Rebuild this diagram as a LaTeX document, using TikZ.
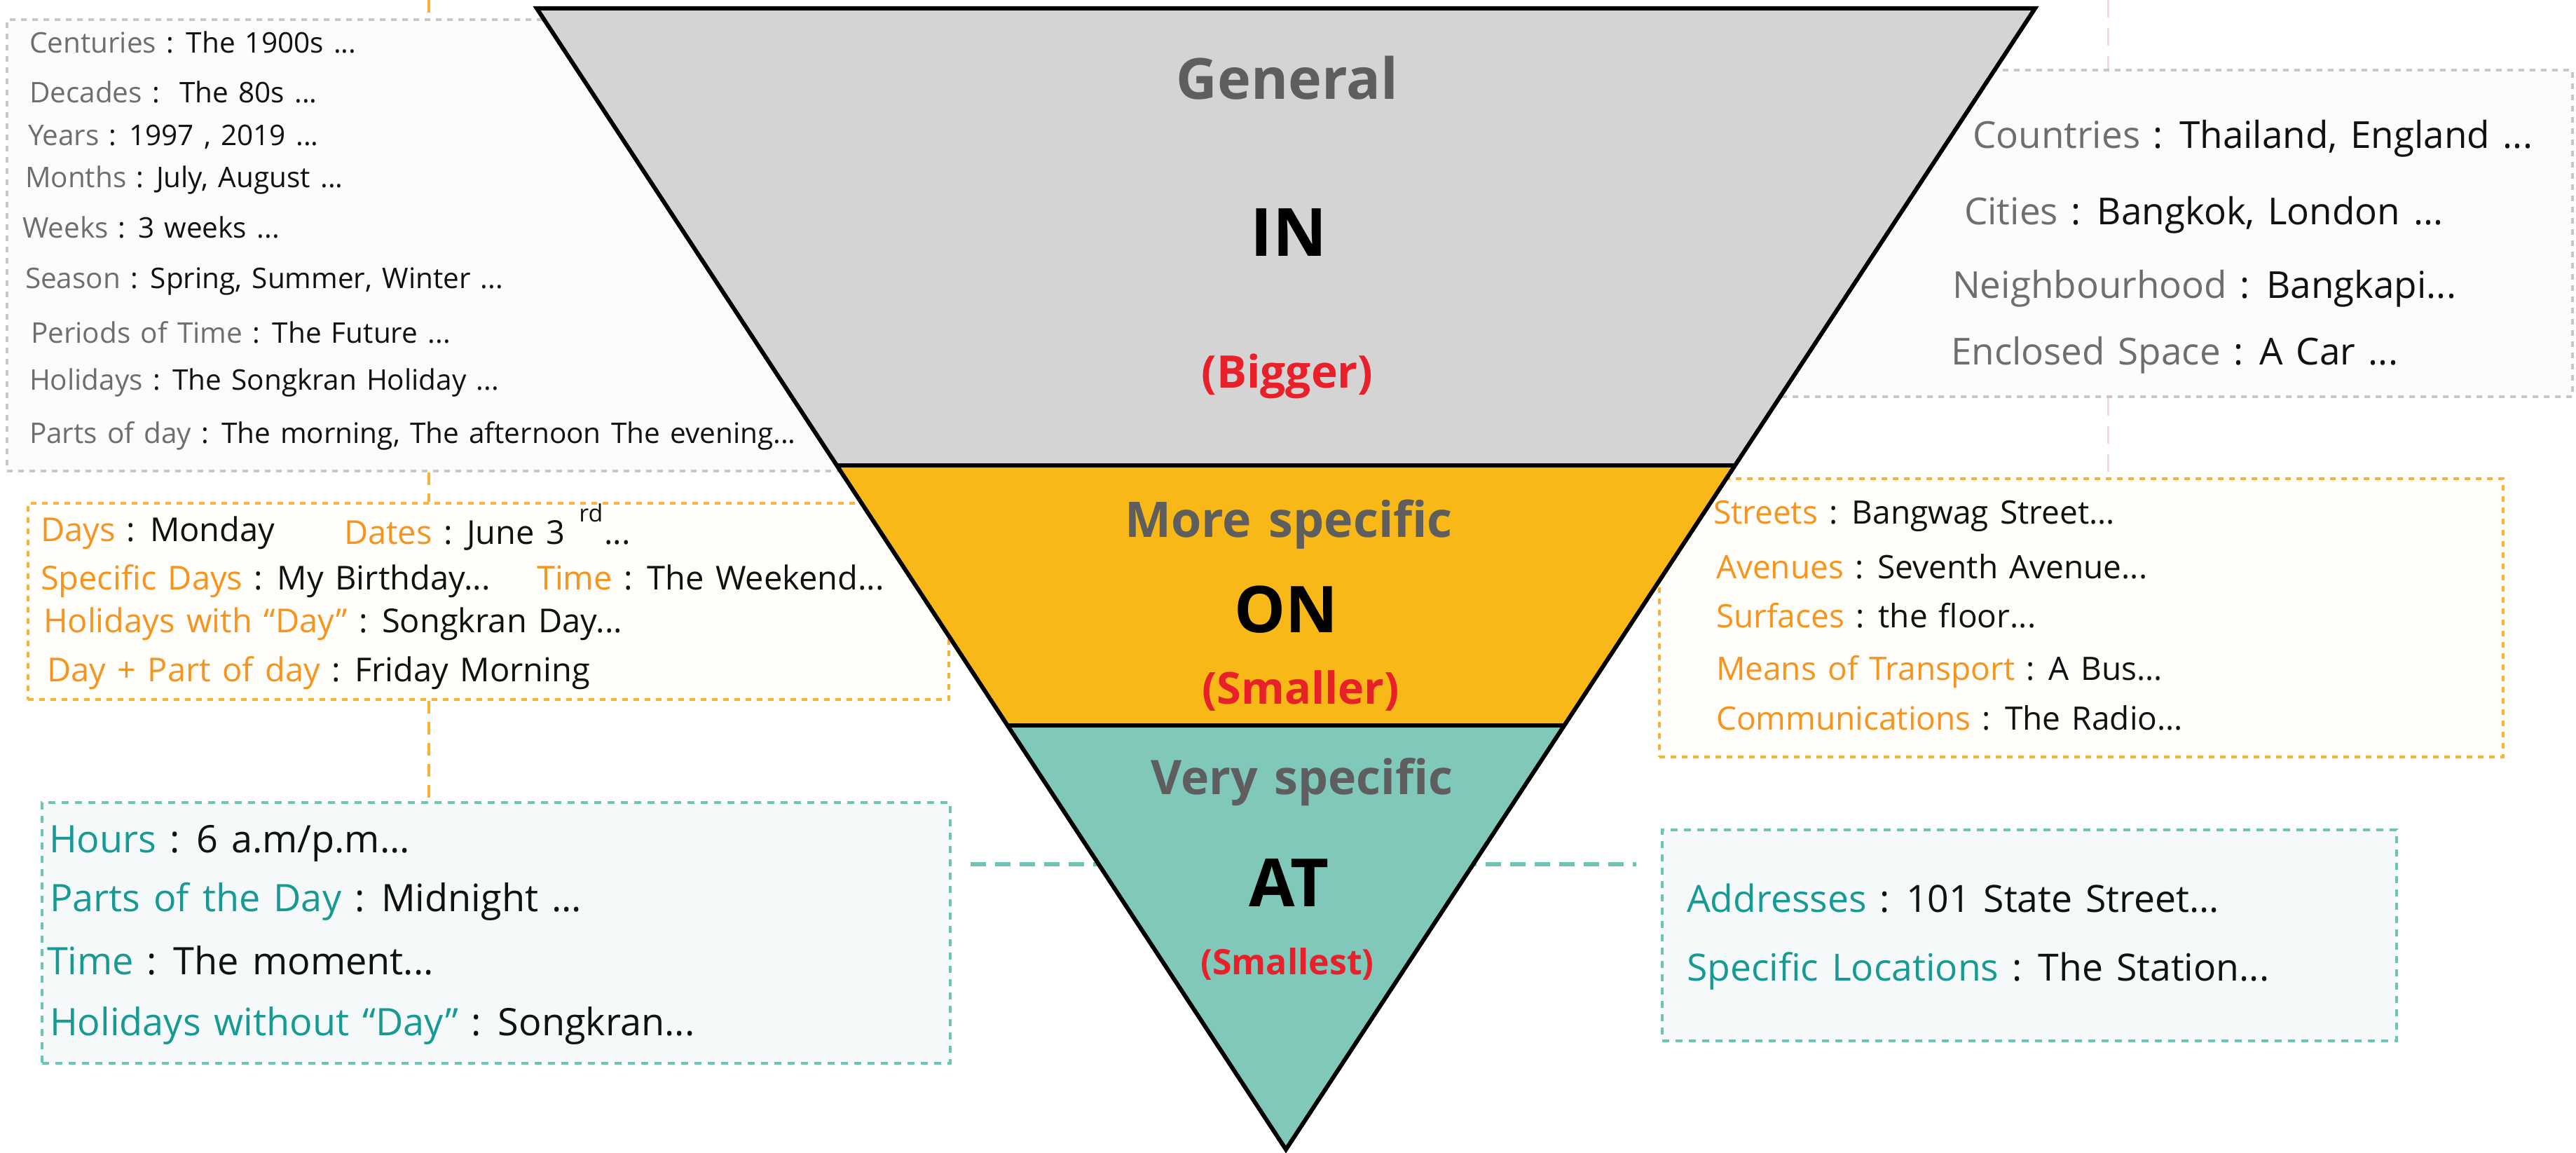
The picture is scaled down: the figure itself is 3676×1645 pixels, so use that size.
\documentclass[tikz,border=0pt]{standalone}
\usepackage{fontspec}
\setmainfont[WordSpace=1.35]{Open Sans}
\usetikzlibrary{calc}
\definecolor{tgray}{HTML}{D4D4D4}
\definecolor{torange}{HTML}{F8B817}
\definecolor{tteal}{HTML}{80C8BA}
\definecolor{titlegray}{HTML}{5E5E5E}
\definecolor{titlered}{HTML}{E8202A}
\definecolor{lblgray}{HTML}{6E6E6E}
\definecolor{lblorange}{HTML}{F7941D}
\definecolor{lblteal}{HTML}{189A94}
\definecolor{bdgray}{HTML}{C8C8C8}
\definecolor{bdorange}{HTML}{F9B233}
\definecolor{bdteal}{HTML}{6CC5B5}
\definecolor{fillgray}{HTML}{FCFCFC}
\definecolor{fillorange}{HTML}{FFFEFA}
\definecolor{fillteal}{HTML}{F6F9F9}
\definecolor{conpink}{HTML}{F6D6D6}
\definecolor{valtext}{HTML}{111111}
\newcommand\myfs[1]{\fontsize{#1}{#1}\selectfont}
\newcommand\labG[1]{\textcolor{lblgray}{#1}}
\newcommand\labO[1]{\textcolor{lblorange}{#1}}
\newcommand\labT[1]{\textcolor{lblteal}{#1}}
\tikzset{
  boxbase/.style={draw, rectangle, anchor=north west, inner sep=0pt, line width=4pt, dash pattern=on 8pt off 8pt},
  graybox/.style={boxbase, draw=bdgray, fill=fillgray},
  orangebox/.style={boxbase, draw=bdorange, fill=fillorange},
  tealbox/.style={boxbase, draw=bdteal, fill=fillteal, dash pattern=on 10pt off 9pt},
  txt/.style={anchor=base west, inner sep=0pt, outer sep=0pt, text=valtext},
  ttl/.style={anchor=base, inner sep=0pt, outer sep=0pt, font=\bfseries},
  band/.style={draw=black, line width=6pt, line join=miter},
  orangeconn/.style={draw=bdorange, line width=4pt, dash pattern=on 18pt off 12pt},
  pinkconn/.style={draw=conpink, line width=3pt, dash pattern=on 25pt off 15pt},
  tealconn/.style={draw=bdteal, line width=6pt, dash pattern=on 22pt off 13pt},
}
\begin{document}
\begin{tikzpicture}[x=1pt, y=-1pt]
\useasboundingbox (0,0) rectangle (3676,1645);
% connector anchors
\coordinate (otop) at (612,0);
\coordinate (ptop) at (3008,0);
% boxes (nodes)
\node[graybox, minimum width=1292pt, minimum height=644pt] (lin) at (8,26) {};
\node[orangebox, minimum width=1314pt, minimum height=280pt] (lon) at (38,716) {};
\node[tealbox, minimum width=1296pt, minimum height=372pt] (lat) at (58,1143) {};
\node[graybox, minimum width=1369pt, minimum height=466pt] (rin) at (2300,98) {};
\node[orangebox, minimum width=1204pt, minimum height=397pt] (ron) at (2366,681) {};
\node[tealbox, minimum width=1048pt, minimum height=301pt] (rat) at (2370,1182) {};
% connectors
\path[orangeconn] (otop) -- (otop |- lin.north);
\path[orangeconn] (lin.south -| otop) -- (lon.north -| otop);
\path[orangeconn] (lon.south -| otop) -- (lat.north -| otop);
\path[pinkconn] (ptop) -- (ptop |- rin.north);
\path[pinkconn] (rin.south -| ptop) -- (ron.north -| ptop);
\coordinate (tl) at ($(lat.north east)+(27,90)$);
\coordinate (tr) at ($(rat.north west)+(-35,51)$);
\path[tealconn] (tl) -- (tr);
% triangle
\coordinate (A) at (766,12);
\coordinate (B) at (2904,12);
\coordinate (C) at (1835,1640);
\coordinate (L1) at ($(A)!0.4005!(C)$);
\coordinate (R1) at ($(B)!0.4005!(C)$);
\coordinate (L2) at ($(A)!0.6284!(C)$);
\coordinate (R2) at ($(B)!0.6284!(C)$);
\fill[tgray] (A) -- (B) -- (R1) -- (L1) -- cycle;
\fill[torange] (L1) -- (R1) -- (R2) -- (L2) -- cycle;
\fill[tteal] (L2) -- (R2) -- (C) -- cycle;
\draw[band] (L1) -- (R1);
\draw[band] (L2) -- (R2);
\draw[band] (A) -- (B) -- (C) -- cycle;
% triangle titles
\node[ttl, text=titlegray, font=\bfseries\myfs{81}] (tgen) at (1837,142) {General};
\node[ttl, text=black, font=\bfseries\myfs{95}] (tin) at (1839,365) {IN};
\node[ttl, text=titlered, font=\bfseries\myfs{64}] (tbig) at (1837,553) {(Bigger)};
\node[ttl, text=titlegray, font=\bfseries\myfs{70}] (tmore) at (1839,766) {More specific};
\node[ttl, text=black, font=\bfseries\myfs{92}] (ton) at (1835,902) {ON};
\node[ttl, text=titlered, font=\bfseries\myfs{63}] (tsmaller) at (1856,1004) {(Smaller)};
\node[ttl, text=titlegray, font=\bfseries\myfs{68}] (tvery) at (1858,1133) {Very specific};
\node[ttl, text=black, font=\bfseries\myfs{95}] (tat) at (1839,1293) {AT};
\node[ttl, text=titlered, font=\bfseries\myfs{50}] (tsmallest) at (1837,1390) {(Smallest)};
% left gray box text
\begin{scope}[every node/.append style={txt, font=\myfs{40.5}}]
\node (g1) at (42,76) {\labG{Centuries} : The 1900s ...};
\node (g2) at (42,147) {\labG{Decades} :\ \ The 80s ...};
\node (g3) at (40,208) {\labG{Years} : 1997 , 2019 ...};
\node (g4) at (36,268) {\labG{Months} : July, August ...};
\node (g5) at (32,339) {\labG{Weeks} : 3 weeks ...};
\node (g6) at (36,411) {\labG{Season} : Spring, Summer, Winter ...};
\node (g7) at (44,489) {\labG{Periods of Time} : The Future ...};
\node (g8) at (42,556) {\labG{Holidays} : The Songkran Holiday ...};
\node (g9) at (42,632) {\labG{Parts of day} : The morning, The afternoon The evening...};
\end{scope}
% left orange box text
\begin{scope}[every node/.append style={txt, font=\myfs{47}}]
\node (o1) at (58,772) {\labO{Days} : Monday};
\node (o2) at (491,776) {\labO{Dates} : June 3};
\node[text height=8pt] (o2d) at ($(o2.base east)+(56,0)$) {...};
\node (o4) at (766,841) {\labO{Time} : The Weekend...};
\node (o3) at (58,841) {\labO{Specific Days} : My Birthday...};
\node (o5) at (62,902) {\labO{Holidays with “Day”} : Songkran Day...};
\node (o6) at (67,972) {\labO{Day + Part of day} : Friday Morning};
\end{scope}
\node[txt, font=\myfs{34}, text depth=0pt] (o2r) at ($(o2.base east)+(20,-32)$) {rd};
% left teal box text
\begin{scope}[every node/.append style={txt, font=\myfs{54}}]
\node (a1) at (70,1216) {\labT{Hours} : 6 a.m/p.m...};
\node (a2) at (71,1300) {\labT{Parts of the Day} : Midnight ...};
\node (a3) at (67,1390) {\labT{Time} : The moment...};
\node (a4) at (71,1477) {\labT{Holidays without “Day”} : Songkran...};
\end{scope}
% right gray box text
\begin{scope}[every node/.append style={txt, font=\myfs{53}}]
\node (p1) at (2815,212) {\labG{Countries} : Thailand, England ...};
\node (p2) at (2803,320) {\labG{Cities} : Bangkok, London ...};
\node (p3) at (2786,425) {\labG{Neighbourhood} : Bangkapi...};
\node (p4) at (2784,520) {\labG{Enclosed Space} : A Car ...};
\end{scope}
% right orange box text
\begin{scope}[every node/.append style={txt, font=\myfs{46}}]
\node (q1) at (2445,747) {\labO{Streets} : Bangwag Street...};
\node (q2) at (2449,825) {\labO{Avenues} : Seventh Avenue...};
\node (q3) at (2449,895) {\labO{Surfaces} : the floor...};
\node (q4) at (2449,970) {\labO{Means of Transport} : A Bus...};
\node (q5) at (2449,1041) {\labO{Communications} : The Radio...};
\end{scope}
% right teal box text
\begin{scope}[every node/.append style={txt, font=\myfs{53.5}}]
\node (s1) at (2407,1301) {\labT{Addresses} : 101 State Street...};
\node (s2) at (2407,1399) {\labT{Specific Locations} : The Station...};
\end{scope}
\end{tikzpicture}
\end{document}
